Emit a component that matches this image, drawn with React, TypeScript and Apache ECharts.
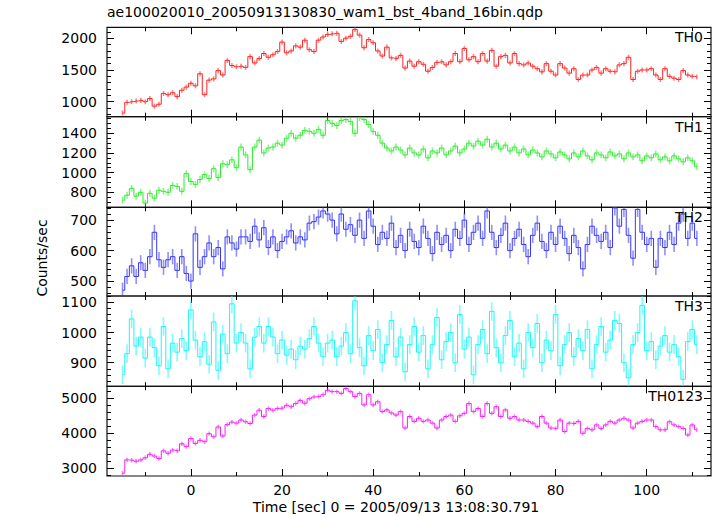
import React, { useEffect, useRef } from 'react';
import * as echarts from 'echarts';

const TITLE = 'ae100020010_20050913130830_wam1_bst_4band_16bin.qdp';
const X_TITLE = 'Time [sec] 0 = 2005/09/13 13:08:30.791';
const Y_TITLE = 'Counts/sec';
const bandNames = ['TH0', 'TH1', 'TH2', 'TH3', 'TH0123'];
const bandColors = ['#ff2020', '#2ee82e', '#3535f5', '#20f5f5', '#f520f5'];

// bin centres: 1 s bins from t = -15 s
const tFirst = -15;
const binWidth = 1;

const th0 = [820, 990, 1000, 1010, 1020, 1000, 1050, 930, 960, 1130, 1110, 1140, 1080, 1180, 1230,
  1290, 1250, 1440, 1110, 1340, 1360, 1490, 1420, 1650, 1570,
  1550, 1560, 1540, 1710, 1610, 1680, 1760, 1700, 1740, 1790,
  1940, 1770, 1800, 1880, 1860, 1970, 1820, 1790, 1970, 2020,
  2060, 2070, 2080, 1950, 2000, 2030, 2140, 2050, 1850, 1980,
  1930, 1800, 1720, 1860, 1690, 1680, 1730, 1530, 1640, 1560,
  1630, 1590, 1480, 1540, 1620, 1630, 1580, 1630, 1760, 1630,
  1840, 1660, 1710, 1630, 1760, 1640, 1810, 1560, 1710, 1730,
  1610, 1760, 1600, 1580, 1610, 1560, 1520, 1470, 1600, 1480,
  1420, 1600, 1530, 1450, 1520, 1350, 1420, 1420, 1500, 1540,
  1450, 1520, 1480, 1470, 1580, 1600, 1700, 1350, 1480, 1500,
  1500, 1520, 1420, 1350, 1520, 1400, 1370, 1350, 1490, 1420,
  1400, 1390];

const th1 = [720, 770, 840, 760, 800, 690, 790, 740, 820, 810, 800, 870, 860, 810, 990,
  910, 880, 930, 980, 940, 1040, 950, 1090, 1080, 1130,
  1050, 1260, 1180, 1030, 1260, 1330, 1200, 1250, 1260, 1300,
  1280, 1350, 1400, 1350, 1380, 1430, 1420, 1400, 1440, 1380,
  1530, 1500, 1480, 1530, 1540, 1520, 1400, 1560, 1540, 1490,
  1420, 1380, 1300, 1250, 1220, 1260, 1230, 1180, 1250, 1200,
  1180, 1240, 1150, 1220, 1200, 1250, 1180, 1220, 1270, 1200,
  1240, 1300, 1270, 1320, 1280, 1340, 1260, 1300, 1240, 1280,
  1220, 1260, 1200, 1240, 1180, 1230, 1200, 1160, 1220, 1190,
  1150, 1210, 1180, 1140, 1200, 1160, 1220, 1170, 1130, 1200,
  1180, 1150, 1210, 1170, 1190, 1140, 1200, 1160, 1180, 1120,
  1170, 1150, 1190, 1130, 1160, 1120, 1170, 1140, 1110, 1150,
  1120, 1060];

const th2 = [470, 515, 550, 515, 560, 535, 580, 660, 570, 545, 570, 580, 535, 580, 525,
  500, 655, 545, 580, 625, 580, 610, 540, 645, 625,
  605, 645, 645, 630, 680, 635, 675, 610, 645, 600,
  630, 645, 665, 625, 645, 635, 690, 695, 710, 730,
  720, 700, 655, 720, 670, 685, 650, 700, 640, 730,
  680, 620, 660, 640, 690, 610, 650, 600, 670, 630,
  610, 680, 640, 590, 660, 620, 650, 600, 670, 640,
  700, 620, 660, 690, 640, 730, 660, 610, 650, 690,
  600, 640, 670, 620, 580, 650, 690, 630, 600, 660,
  620, 680, 640, 590, 650, 610, 540, 620, 680, 650,
  630, 660, 610, 740, 680, 735, 650, 575, 735, 660,
  620, 640, 545, 640, 610, 660, 620, 690, 720, 640,
  690, 640];

const th3 = [860, 930, 1045, 955, 985, 915, 985, 950, 890, 1020, 880, 965, 935, 980, 940,
  1075, 975, 920, 970, 895, 1035, 875, 995, 930, 1095,
  965, 1000, 965, 880, 985, 1020, 965, 1020, 985, 930,
  975, 925, 945, 910, 955, 945, 980, 1020, 965, 920,
  965, 975, 920, 955, 1000, 930, 1105, 950, 890, 990,
  940, 1010, 900, 960, 1040, 920, 985, 870, 960, 1020,
  935, 990, 880, 960, 1050, 910, 970, 1000, 900, 1060,
  945, 985, 860, 960, 1010, 930, 1070, 950, 900, 990,
  1040, 920, 965, 880, 1000, 950, 1030, 900, 975, 940,
  1060, 890, 960, 1000, 920, 980, 940, 1010, 880, 960,
  1020, 935, 975, 1040, 1030, 900, 850, 960, 1000, 1090,
  940, 970, 910, 955, 990, 935, 960, 920, 845, 970,
  1010, 960];

const th0123 = [2860, 3240, 3230, 3200, 3240, 3300, 3400, 3350, 3280, 3500, 3430, 3520, 3500, 3700, 3620,
  3850, 3710, 3800, 3760, 3990, 3900, 4180, 3920, 4250, 4320,
  4290, 4380, 4330, 4280, 4520, 4660, 4480, 4710, 4660, 4710,
  4720, 4800, 4760, 4850, 4940, 4860, 4990, 5040, 5050, 5100,
  5230, 5190, 5190, 5140, 5280, 5190, 5050, 5140, 4810, 5100,
  4810, 4900, 4620, 4670, 4580, 4520, 4620, 4150, 4480, 4340,
  4430, 4340, 4380, 4290, 4150, 4380, 4480, 4520, 4340, 4500,
  4570, 4850, 4620, 4710, 4480, 4850, 4570, 4760, 4480, 4670,
  4430, 4480, 4380, 4380, 4340, 4290, 4190, 4480, 4290, 4150,
  4140, 4380, 4050, 4290, 4280, 4340, 4000, 4140, 4100, 4240,
  4140, 4240, 4340, 4290, 4380, 4430, 4380, 4150, 4290, 4340,
  4380, 4380, 4190, 4100, 4100, 4330, 4240, 4190, 4140, 3950,
  4240, 4100];

// one-sigma error (counts/sec) for each band
const bandErrors = [40, 35, 25, 31, 63];

const xRange = [-18.4, 114.1];
const xMajorTicks = [0, 20, 40, 60, 80, 100];
const xMinorTicks = [-10, 10, 30, 50, 70, 90, 110];

const yRanges = [[763, 2173], [647, 1569], [451, 742], [822, 1121], [2780, 5343]];
const yMajorTicks = [[1000, 1500, 2000], [800, 1000, 1200, 1400], [500, 600, 700], [900, 1000, 1100], [3000, 4000, 5000]];
const yMinorStep = [100, 50, 20, 20, 200];

const panelTops = [27.3, 116.7, 207.3, 296, 386.3];
const panelBottoms = [116.7, 207.3, 296, 386.3, 476];

const FONT = 'DejaVu Sans';

export default function App() {
  const ref = useRef<HTMLDivElement>(null);
  useEffect(() => {
    const chart = echarts.init(ref.current!, null, { renderer: 'svg' });
    const allBands = [th0, th1, th2, th3, th0123];
    const grids: any[] = [];
    const xAxes: any[] = [];
    const yAxes: any[] = [];
    const series: any[] = [];
    const graphics: any[] = [];
    const tickStyle = { color: '#000', width: 1 };
    const plain = (v: number) => String(v);

    allBands.forEach((vals, g) => {
      grids.push({
        left: 107, right: 6, top: panelTops[g], height: panelBottoms[g] - panelTops[g],
        show: true, borderColor: '#111', borderWidth: 1.2, backgroundColor: 'transparent',
      });
      const xb = {
        type: 'value', gridIndex: g, min: xRange[0], max: xRange[1],
        axisLine: { show: false, onZero: false }, splitLine: { show: false }, axisLabel: { show: false },
      };
      xAxes.push({
        ...xb, position: 'bottom',
        axisTick: { show: true, inside: true, length: 7, customValues: xMajorTicks, lineStyle: tickStyle },
        axisLabel: g === 4
          ? { show: true, customValues: xMajorTicks, formatter: plain, margin: 7, fontSize: 14, fontFamily: FONT, color: '#000' }
          : { show: false },
      });
      xAxes.push({ ...xb, position: 'bottom', axisTick: { show: true, inside: true, length: 4, customValues: xMinorTicks, lineStyle: tickStyle } });
      xAxes.push({ ...xb, position: 'top', axisTick: { show: true, inside: true, length: 7, customValues: xMajorTicks, lineStyle: tickStyle } });
      xAxes.push({ ...xb, position: 'top', axisTick: { show: true, inside: true, length: 4, customValues: xMinorTicks, lineStyle: tickStyle } });

      const [ymin, ymax] = yRanges[g];
      const minor: number[] = [];
      const st = yMinorStep[g];
      for (let v = Math.ceil(ymin / st) * st; v <= ymax; v += st) {
        if (!yMajorTicks[g].includes(v)) minor.push(v);
      }
      const yb = {
        type: 'value', gridIndex: g, min: ymin, max: ymax,
        axisLine: { show: false, onZero: false }, splitLine: { show: false }, axisLabel: { show: false },
      };
      yAxes.push({
        ...yb, position: 'left',
        axisTick: { show: true, inside: true, length: 7, customValues: yMajorTicks[g], lineStyle: tickStyle },
        axisLabel: { show: true, customValues: yMajorTicks[g], formatter: plain, margin: 10, fontSize: 14, fontFamily: FONT, color: '#000' },
      });
      yAxes.push({ ...yb, position: 'left', axisTick: { show: true, inside: true, length: 4, customValues: minor, lineStyle: tickStyle } });
      yAxes.push({ ...yb, position: 'right', axisTick: { show: true, inside: true, length: 7, customValues: yMajorTicks[g], lineStyle: tickStyle } });
      yAxes.push({ ...yb, position: 'right', axisTick: { show: true, inside: true, length: 4, customValues: minor, lineStyle: tickStyle } });

      const err = bandErrors[g];
      const pts = vals.map((v, i) => [tFirst + i * binWidth, v, err]);
      const color = bandColors[g];
      series.push({
        type: 'custom', xAxisIndex: 4 * g, yAxisIndex: 4 * g, clip: true, silent: true,
        data: pts,
        renderItem: (params: any, api: any) => {
          const x = api.value(0), y = api.value(1), e = api.value(2);
          const p1 = api.coord([x, y - e]);
          const p2 = api.coord([x, y + e]);
          return {
            type: 'line',
            shape: { x1: p1[0], y1: p1[1], x2: p2[0], y2: p2[1] },
            style: { stroke: color, lineWidth: 1.6, opacity: 0.55 },
          };
        },
      });
      series.push({
        type: 'line', xAxisIndex: 4 * g, yAxisIndex: 4 * g, data: pts.map((p) => [p[0], p[1]]),
        step: 'middle', showSymbol: false, symbol: 'none', clip: true, silent: true,
        lineStyle: { color, width: 1 },
      });

      graphics.push({
        type: 'text', right: 14, top: panelTops[g] + 3,
        style: { text: bandNames[g], font: `14px "${FONT}"`, fill: '#000' },
        z: 100,
      });
    });

    graphics.push({
      type: 'text', left: 107, top: 5,
      style: { text: TITLE, font: `14px "${FONT}"`, fill: '#000' },
    });
    graphics.push({
      type: 'text', x: 396, y: 507,
      style: { text: X_TITLE, font: `14px "${FONT}"`, fill: '#000', align: 'center', verticalAlign: 'middle' },
    });
    graphics.push({
      type: 'text', x: 42, y: 258, rotation: Math.PI / 2,
      style: { text: Y_TITLE, font: `14px "${FONT}"`, fill: '#000', align: 'center', verticalAlign: 'middle' },
    });

    chart.setOption({
      animation: false,
      backgroundColor: '#fff',
      grid: grids,
      xAxis: xAxes,
      yAxis: yAxes,
      series,
      graphic: graphics,
    });
    return () => chart.dispose();
  }, []);
  return <div ref={ref} style={{ position: 'absolute', left: 0, top: 0, width: 717, height: 516 }} />;
}
